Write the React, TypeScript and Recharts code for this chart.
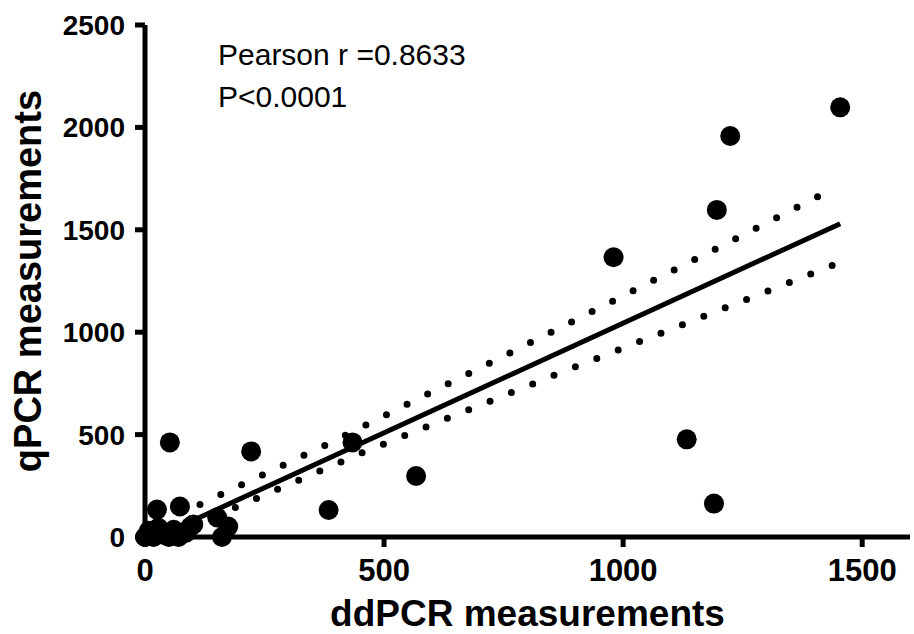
import { ScatterChart, Scatter, XAxis, YAxis, Label, Customized } from "recharts"

// ddPCR (x) vs qPCR (y)
const ddpcr = [1454, 1224, 1196, 980, 1133, 1190, 567, 434, 384, 222, 52, 25, 73, 101, 151, 174, 161, 0, 8, 18, 28, 40, 50, 60, 70, 85, 95]
const qpcr = [2098, 1958, 1597, 1366, 477, 163, 298, 462, 132, 418, 462, 134, 149, 61, 95, 51, 0, 0, 30, 0, 45, 10, 0, 35, 0, 20, 50]

// linear fit and 95% confidence bands
const fitX = [25, 1454]
const fitY = [0, 1530]
const upperX = [115, 377, 854, 1198, 1413]
const upperY = [159, 448, 1005, 1412, 1669]
const lowerX = [189, 454, 859, 1219, 1442]
const lowerY = [144, 411, 793, 1124, 1330]

const xTicks = [0, 500, 1000, 1500]
const yTicks = [0, 500, 1000, 1500, 2000, 2500]

const points = ddpcr.map((x, i) => ({ x, y: qpcr[i] }))
const fitLine = fitX.map((x, i) => ({ x, y: fitY[i] }))
const upperBand = upperX.map((x, i) => ({ x, y: upperY[i] }))
const lowerBand = lowerX.map((x, i) => ({ x, y: lowerY[i] }))

const font = "'Liberation Sans', Arial, sans-serif"
const axisStroke = { stroke: "#000", strokeWidth: 5 }

const noDot = () => <g />

export default function App() {
  return (
    <div style={{ position: "absolute", left: 0, top: 0, background: "#fff" }}>
      <ScatterChart width={914} height={634} margin={{ top: 25, right: 4, bottom: 0, left: 0 }}>
        <XAxis
          type="number"
          dataKey="x"
          domain={[0, 1600]}
          ticks={xTicks}
          height={97}
          axisLine={axisStroke}
          tickLine={axisStroke}
          tickSize={10}
          tickMargin={12}
          tick={{ fill: "#000", fontSize: 31, fontWeight: "bold", fontFamily: font }}
        >
          <Label
            value="ddPCR measurements"
            position="insideBottom"
            offset={8}
            fill="#000"
            fontSize={37}
            fontWeight="bold"
            fontFamily={font}
          />
        </XAxis>
        <YAxis
          type="number"
          dataKey="y"
          domain={[0, 2500]}
          ticks={yTicks}
          width={145}
          axisLine={axisStroke}
          tickLine={axisStroke}
          tickSize={10}
          tickMargin={10}
          tick={{ fill: "#000", fontSize: 28, fontWeight: "bold", fontFamily: font }}
        >
          <Label
            content={(props: any) => {
              const vb = props.viewBox
              const cx = vb.x + 41
              const cy = vb.y + vb.height / 2
              return (
                <text
                  x={cx}
                  y={cy}
                  transform={`rotate(-90 ${cx} ${cy})`}
                  textAnchor="middle"
                  fill="#000"
                  fontSize={38}
                  fontWeight="bold"
                  fontFamily={font}
                >
                  qPCR measurements
                </text>
              )
            }}
          />
        </YAxis>
        <Scatter
          data={upperBand}
          isAnimationActive={false}
          shape={noDot}
          line={{ stroke: "#000", strokeWidth: 7, strokeDasharray: "0 23", strokeLinecap: "round" }}
        />
        <Scatter
          data={lowerBand}
          isAnimationActive={false}
          shape={noDot}
          line={{ stroke: "#000", strokeWidth: 7, strokeDasharray: "0 23", strokeLinecap: "round" }}
        />
        <Scatter
          data={fitLine}
          isAnimationActive={false}
          shape={noDot}
          line={{ stroke: "#000", strokeWidth: 5 }}
        />
        <Scatter
          data={points}
          isAnimationActive={false}
          shape={(p: any) => <circle cx={p.cx} cy={p.cy} r={10} fill="#000" />}
        />
        <Customized
          component={() => (
            <g fontFamily={font} fontSize={30} fill="#000">
              <text x={218} y={65}>Pearson r =0.8633</text>
              <text x={218} y={107}>P&lt;0.0001</text>
            </g>
          )}
        />
      </ScatterChart>
    </div>
  )
}
